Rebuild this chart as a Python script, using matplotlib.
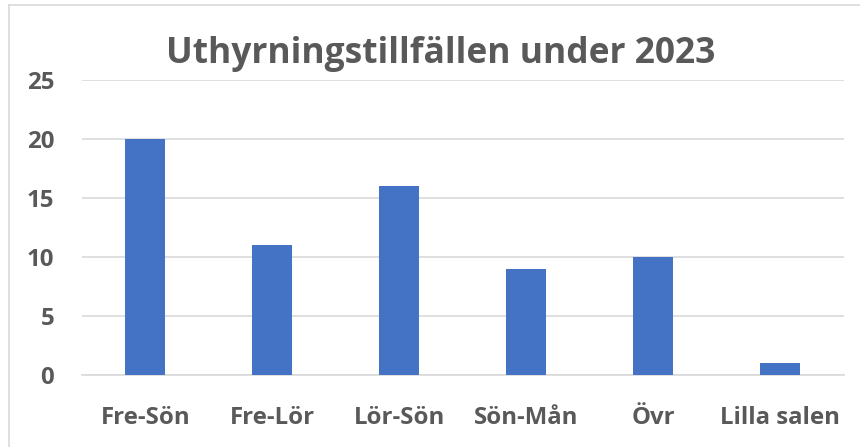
import matplotlib.pyplot as plt
from matplotlib.lines import Line2D

kategorier = ["Fre-Sön", "Fre-Lör", "Lör-Sön", "Sön-Mån", "Övr", "Lilla salen"]
antal = [20, 11, 16, 9, 10, 1]
yticks = [0, 5, 10, 15, 20, 25]

plt.rcParams["font.family"] = ["Open Sans", "DejaVu Sans"]

fig = plt.figure(figsize=(8.6, 4.47), dpi=100)
ax = fig.add_axes([0.0953, 0.161, 0.886, 0.66])

x = range(len(kategorier))
ax.bar(x, antal, width=0.315, color="#4472C4", zorder=3)

ax.set_xlim(-0.5, len(kategorier) - 0.5)
ax.set_ylim(0, 25)
ax.set_yticks(yticks)
ax.set_xticks(list(x))
ax.set_xticklabels(kategorier)
ax.grid(axis="y", color="#d9d9d9", linewidth=1.2, zorder=0)
for s in ["top", "right", "left"]:
    ax.spines[s].set_visible(False)
ax.spines["bottom"].set_color("#d9d9d9")
ax.spines["bottom"].set_linewidth(1.2)
ax.tick_params(axis="both", length=0, labelsize=17.3, colors="#595959")
ax.tick_params(axis="y", pad=20)
ax.tick_params(axis="x", pad=22)
for lab in ax.get_xticklabels() + ax.get_yticklabels():
    lab.set_fontweight("bold")

fig.text(0.513, 1 - 63 / 447, "Uthyrningstillfällen under 2023", ha="center", va="baseline",
         fontsize=25.5, fontweight="bold", color="#595959")

# ram runt diagrammet (bara vänster och övre kant syns)
fig.lines.append(Line2D([9 / 860, 9 / 860], [0, 1 - 5 / 447], transform=fig.transFigure,
                        color="#d9d9d9", linewidth=1.2))
fig.lines.append(Line2D([9 / 860, 1], [1 - 5 / 447, 1 - 5 / 447], transform=fig.transFigure,
                        color="#d9d9d9", linewidth=1.2))

plt.savefig("out.png", dpi=100)
